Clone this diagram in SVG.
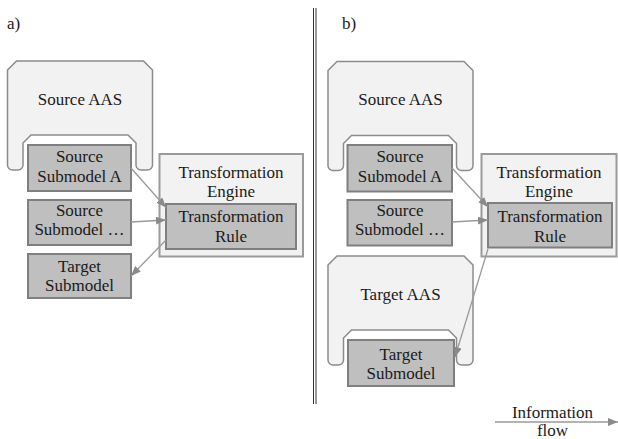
<svg xmlns="http://www.w3.org/2000/svg" width="618" height="439" viewBox="0 0 618 439" font-family="'Liberation Serif', 'Times New Roman', 'DejaVu Serif', serif">
<style>
text{font-size:17px;fill:#1a1a1a;text-anchor:middle}
.lbl{text-anchor:start}
.aas{fill:#f2f2f2;stroke:#8c8c8c;stroke-width:1.5}
.sm{fill:#bfbfbf;stroke:#7f7f7f;stroke-width:2}
.eng{fill:#f2f2f2;stroke:#9a9a9a;stroke-width:2}
.con{fill:none;stroke:#9a9a9a;stroke-width:1.3;marker-end:url(#arr)}
.div{stroke:#333;stroke-width:1}
</style>
<defs>
<marker id="arr" markerUnits="userSpaceOnUse" markerWidth="11" markerHeight="9" refX="10" refY="4" orient="auto">
<path d="M0,0 L10,4 L0,8 Z" fill="#8a8a8a"/>
</marker>
<path id="aasShape" d="M0,9 L9,0 L136,0 L145,9 L145,104 A5,5 0 0 1 140,109 L133.5,109 A5,5 0 0 1 128.5,104 L128.5,82 L120.5,74 L23.5,74 L15.5,82 L15.5,104 A5,5 0 0 1 10.5,109 L5,109 A5,5 0 0 1 0,104 Z"/>
</defs>
<rect width="618" height="439" fill="#fff"/>
<text class="lbl" x="7" y="29">a)</text>
<text class="lbl" x="342" y="29">b)</text>
<line class="div" x1="313.5" y1="8" x2="313.5" y2="404"/>
<line class="div" x1="316" y1="8" x2="316" y2="404"/>

<!-- panel a -->
<g id="a-source-aas">
<use href="#aasShape" class="aas" transform="translate(7.5,61)"/>
<text x="80" y="104.5">Source AAS</text>
</g>
<g id="a-source-submodel-a">
<rect class="sm" x="28" y="145" width="103" height="46"/>
<text x="79.5" y="162">Source</text>
<text x="79.5" y="181.5">Submodel A</text>
</g>
<g id="a-source-submodel-etc">
<rect class="sm" x="28" y="200" width="103" height="45"/>
<text x="79.5" y="216">Source</text>
<text x="79.5" y="235">Submodel …</text>
</g>
<g id="a-target-submodel">
<rect class="sm" x="28" y="254" width="103" height="44"/>
<text x="79.5" y="272">Target</text>
<text x="79.5" y="291">Submodel</text>
</g>
<g id="a-engine">
<rect class="eng" x="159.5" y="154" width="143.5" height="102.5"/>
<text x="231" y="178">Transformation</text>
<text x="231" y="197">Engine</text>
</g>
<g id="a-rule">
<rect class="sm" x="166" y="204" width="130" height="45"/>
<text x="231" y="222">Transformation</text>
<text x="231" y="241.5">Rule</text>
</g>

<!-- panel b -->
<g id="b-source-aas">
<use href="#aasShape" class="aas" transform="translate(328,61.5)"/>
<text x="400.5" y="105">Source AAS</text>
</g>
<g id="b-source-submodel-a">
<rect class="sm" x="347.5" y="145" width="104.5" height="46.5"/>
<text x="400" y="162">Source</text>
<text x="400" y="181.5">Submodel A</text>
</g>
<g id="b-source-submodel-etc">
<rect class="sm" x="347.5" y="200" width="104.5" height="45.5"/>
<text x="400" y="215.5">Source</text>
<text x="400" y="234.5">Submodel …</text>
</g>
<g id="b-target-aas">
<use href="#aasShape" class="aas" transform="translate(328,256)"/>
<text x="400.5" y="300">Target AAS</text>
</g>
<g id="b-target-submodel">
<rect class="sm" x="348" y="340" width="106" height="46"/>
<text x="401" y="359.5">Target</text>
<text x="401" y="378.5">Submodel</text>
</g>
<g id="b-engine">
<rect class="eng" x="481.5" y="154" width="135" height="102.5"/>
<text x="549" y="178">Transformation</text>
<text x="549" y="197">Engine</text>
</g>
<g id="b-rule">
<rect class="sm" x="488" y="203" width="124" height="44.5"/>
<text x="550" y="222">Transformation</text>
<text x="550" y="241.5">Rule</text>
</g>

<g id="connectors">
<line class="con" x1="131" y1="168" x2="166" y2="207.5"/>
<line class="con" x1="131" y1="222" x2="166" y2="220"/>
<line class="con" x1="166" y1="240" x2="131" y2="276"/>
<line class="con" x1="452" y1="168" x2="488" y2="207"/>
<line class="con" x1="452" y1="222" x2="488" y2="220"/>
<line class="con" x1="488" y1="249" x2="455" y2="357"/>
</g>

<g id="legend">
<line class="con" x1="495" y1="422" x2="618" y2="422"/>
<text x="552.5" y="418">Information</text>
<text x="552.5" y="435.5">flow</text>
</g>
</svg>
